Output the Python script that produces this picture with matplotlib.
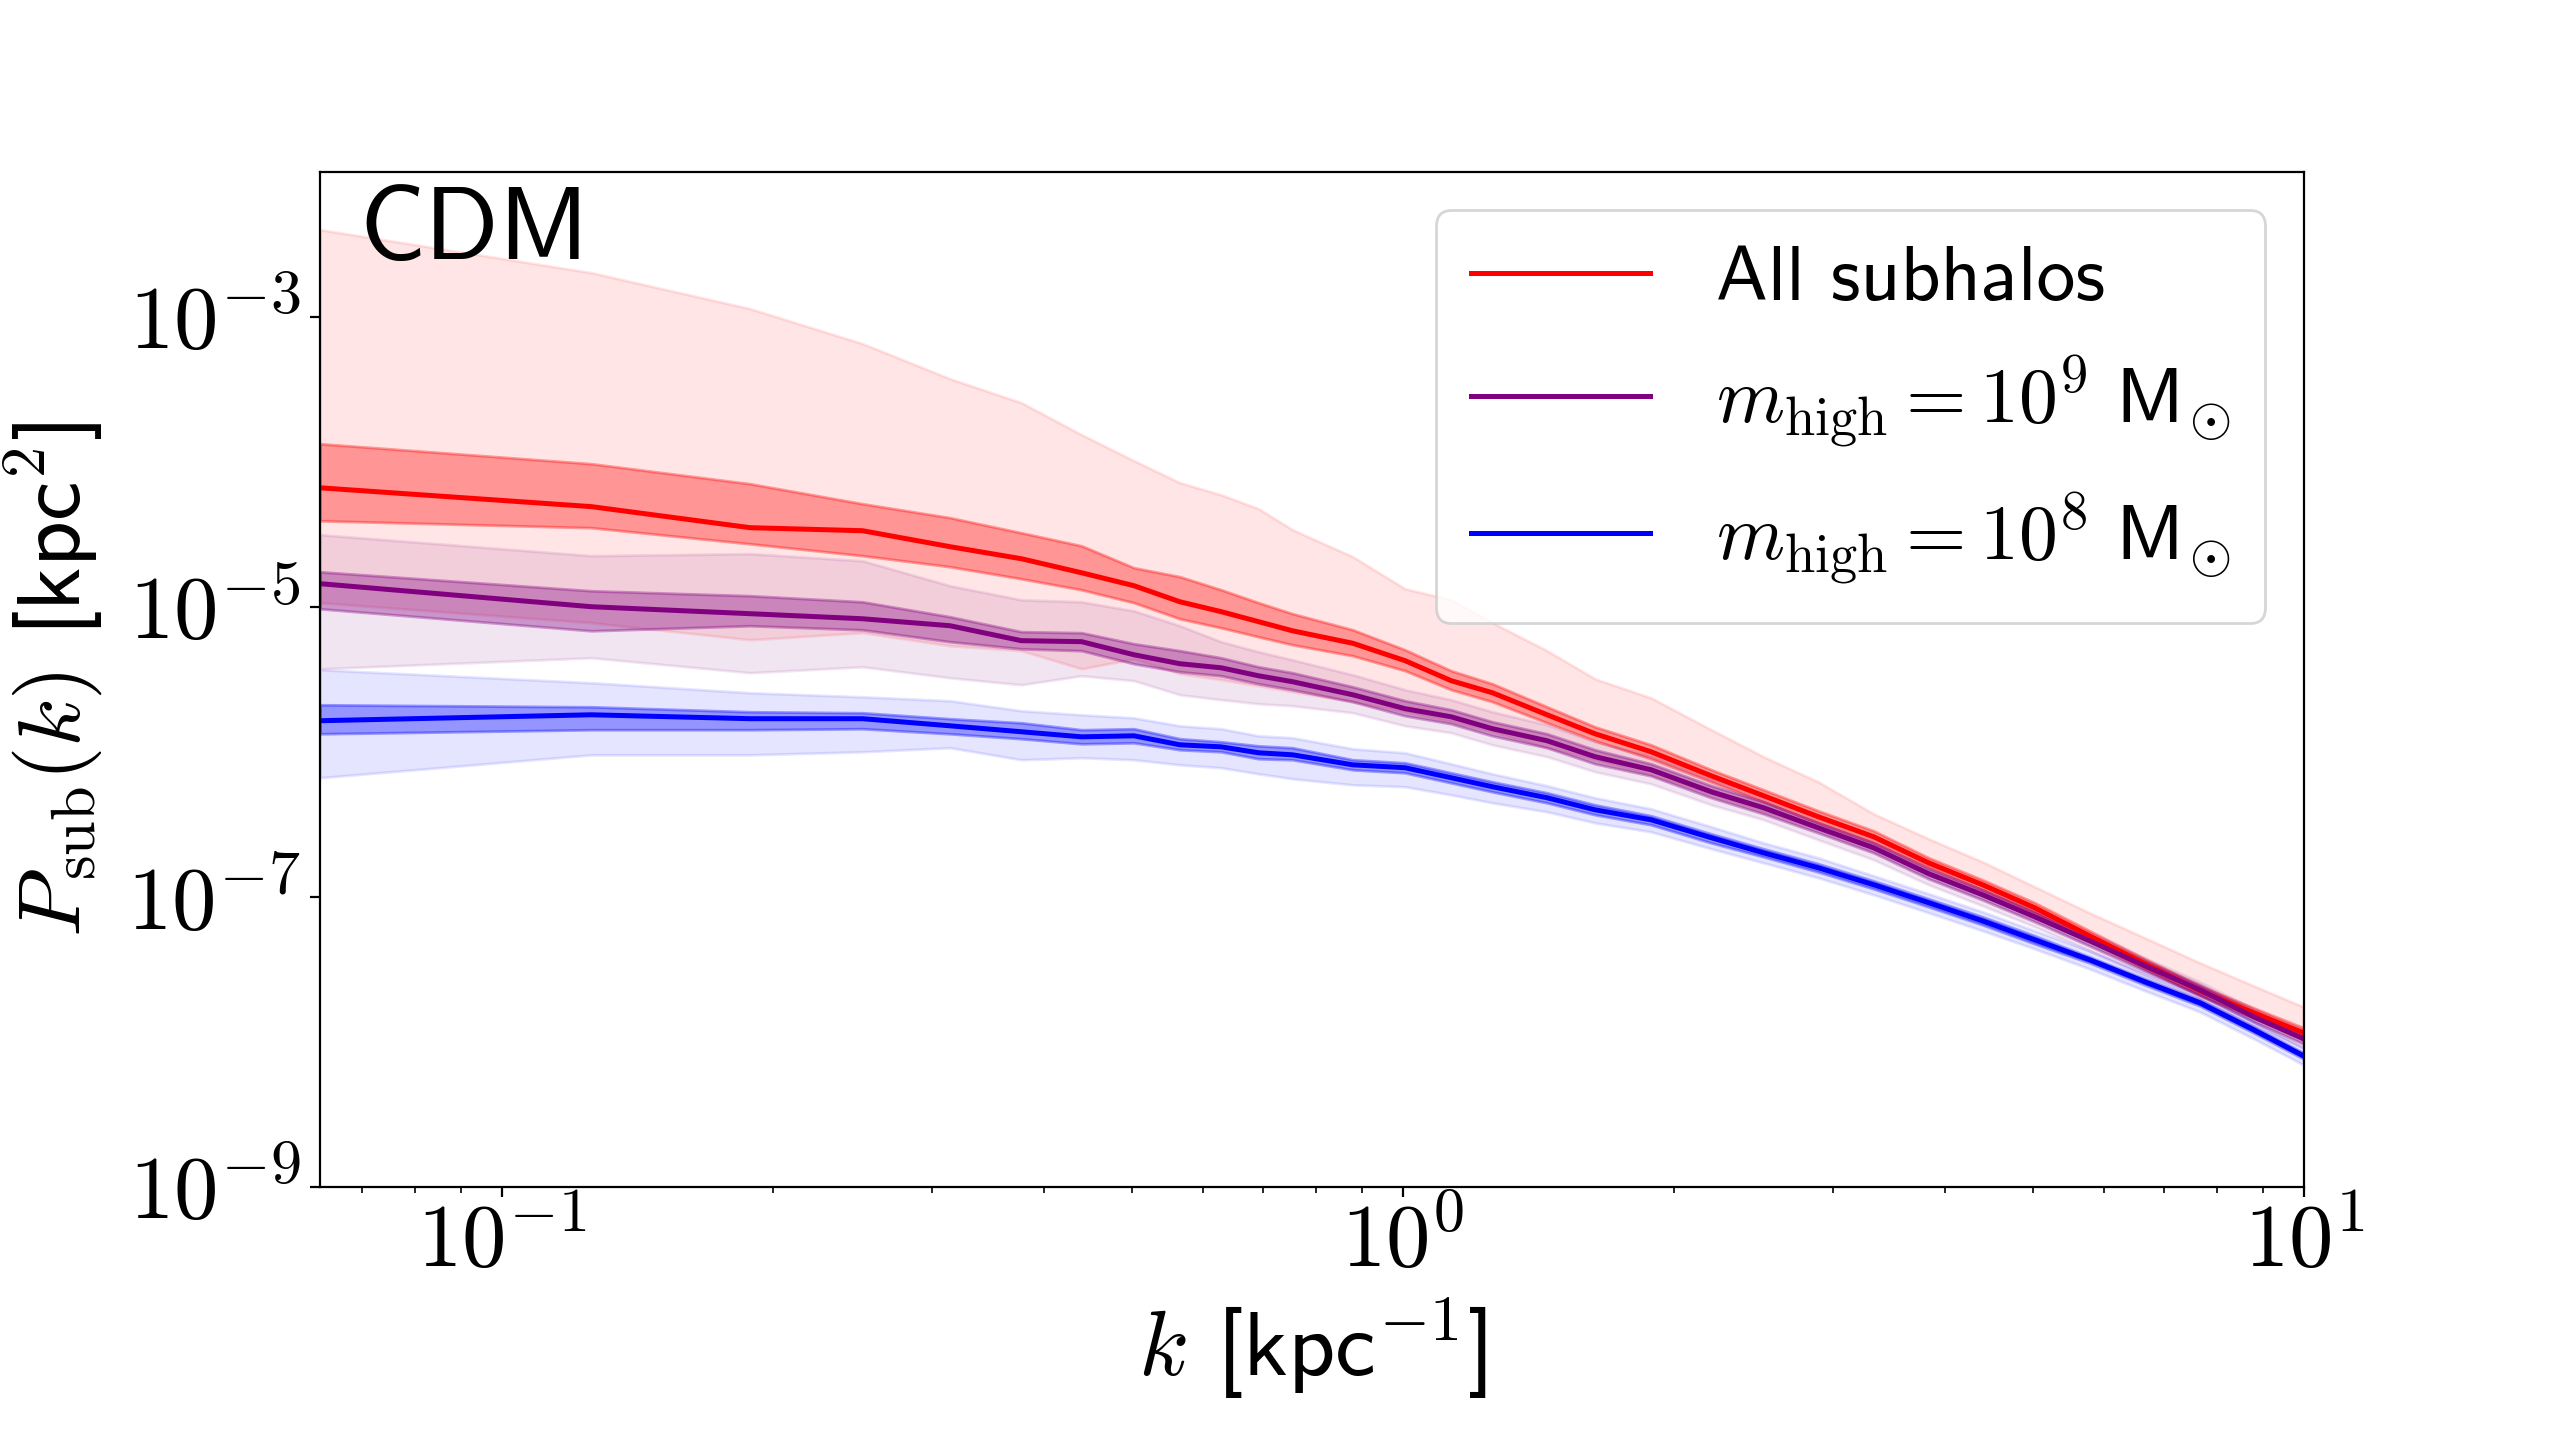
import numpy as np
import matplotlib
matplotlib.use("Agg")
import matplotlib.pyplot as plt
from matplotlib.ticker import NullLocator, FuncFormatter

plt.rcParams["font.family"] = ["cmss10", "DejaVu Sans"]
plt.rcParams["mathtext.fontset"] = "cm"
plt.rcParams["axes.unicode_minus"] = False

# wavenumbers (kpc^-1)
k = [0.0628, 0.1257, 0.1885, 0.2513, 0.3142, 0.3770, 0.4398, 0.5027, 0.5655,
     0.6283, 0.6912, 0.7540, 0.8796, 1.0053, 1.1310, 1.2566, 1.4451, 1.6336,
     1.8850, 2.1991, 2.5133, 2.8903, 3.3301, 3.8327, 4.3982, 5.0265, 5.7805,
     6.6602, 7.6655, 8.7965, 9.9903]

# log10 P_sub(k): median, inner band, outer band
red_med = [-4.18, -4.31, -4.455, -4.476, -4.586, -4.669, -4.766, -4.855, -4.966,
           -5.034, -5.103, -5.166, -5.252, -5.372, -5.510, -5.593, -5.745, -5.876,
           -6.0, -6.166, -6.303, -6.448, -6.586, -6.766, -6.917, -7.076, -7.269,
           -7.462, -7.648, -7.8, -7.938]
red_in_hi = [-3.876, -4.014, -4.152, -4.29, -4.386, -4.49, -4.58, -4.731, -4.793,
             -4.883, -4.972, -5.048, -5.159, -5.297, -5.441, -5.531, -5.690, -5.828,
             -5.952, -6.124, -6.262, -6.407, -6.545, -6.731, -6.883, -7.041, -7.234,
             -7.428, -7.614, -7.766, -7.903]
red_in_lo = [-4.407, -4.455, -4.566, -4.648, -4.724, -4.807, -4.883, -4.972, -5.083,
             -5.145, -5.207, -5.262, -5.338, -5.441, -5.572, -5.655, -5.8, -5.924,
             -6.048, -6.207, -6.345, -6.490, -6.628, -6.8, -6.952, -7.110, -7.303,
             -7.497, -7.683, -7.834, -7.972]
red_out_hi = [-2.4, -2.697, -2.945, -3.186, -3.428, -3.593, -3.814, -3.993, -4.145,
              -4.228, -4.324, -4.469, -4.655, -4.876, -4.952, -5.110, -5.303, -5.497,
              -5.628, -5.848, -6.034, -6.207, -6.428, -6.6, -6.759, -6.931, -7.11,
              -7.283, -7.455, -7.614, -7.759]
red_out_lo = [-4.972, -5.11, -5.228, -5.179, -5.269, -5.303, -5.428, -5.359, -5.462,
              -5.503, -5.545, -5.586, -5.655, -5.724, -5.793, -5.862, -5.972, -6.055,
              -6.159, -6.297, -6.414, -6.538, -6.676, -6.834, -6.972, -7.124, -7.31,
              -7.503, -7.676, -7.834, -7.986]

purple_med = [-4.841, -5.0, -5.048, -5.083, -5.131, -5.234, -5.241, -5.331, -5.393,
              -5.421, -5.476, -5.517, -5.607, -5.703, -5.759, -5.841, -5.924, -6.034,
              -6.124, -6.276, -6.386, -6.524, -6.662, -6.841, -6.986, -7.138, -7.303,
              -7.476, -7.641, -7.828, -7.979]
purple_in_hi = [-4.759, -4.89, -4.924, -4.966, -5.069, -5.172, -5.179, -5.255, -5.303,
                -5.352, -5.414, -5.455, -5.552, -5.648, -5.710, -5.793, -5.876, -5.986,
                -6.083, -6.234, -6.345, -6.490, -6.628, -6.807, -6.952, -7.103, -7.269,
                -7.441, -7.607, -7.793, -7.945]
purple_in_lo = [-5.014, -5.166, -5.131, -5.159, -5.241, -5.29, -5.303, -5.393, -5.448,
                -5.476, -5.531, -5.572, -5.655, -5.752, -5.807, -5.890, -5.972, -6.083,
                -6.166, -6.317, -6.428, -6.559, -6.697, -6.876, -7.021, -7.172, -7.338,
                -7.510, -7.676, -7.862, -8.014]
purple_out_hi = [-4.503, -4.648, -4.634, -4.683, -4.855, -4.952, -4.966, -5.028, -5.131,
                 -5.241, -5.310, -5.366, -5.469, -5.572, -5.641, -5.724, -5.814, -5.931,
                 -6.028, -6.186, -6.303, -6.448, -6.593, -6.779, -6.924, -7.083, -7.248,
                 -7.421, -7.586, -7.772, -7.924]
purple_out_lo = [-5.428, -5.352, -5.455, -5.414, -5.49, -5.538, -5.476, -5.51, -5.607,
                 -5.641, -5.669, -5.683, -5.731, -5.821, -5.869, -5.952, -6.034, -6.138,
                 -6.221, -6.366, -6.469, -6.607, -6.745, -6.917, -7.062, -7.207, -7.372,
                 -7.545, -7.703, -7.890, -8.041]

blue_med = [-5.786, -5.745, -5.772, -5.772, -5.821, -5.862, -5.897, -5.89, -5.952,
            -5.966, -6.007, -6.021, -6.090, -6.110, -6.179, -6.241, -6.317, -6.4,
            -6.469, -6.593, -6.697, -6.8, -6.917, -7.041, -7.166, -7.297, -7.434,
            -7.586, -7.731, -7.917, -8.097]
blue_in_hi = [-5.676, -5.69, -5.724, -5.731, -5.772, -5.8, -5.848, -5.841, -5.91,
              -5.931, -5.959, -5.972, -6.055, -6.076, -6.145, -6.207, -6.283, -6.366,
              -6.441, -6.566, -6.669, -6.772, -6.890, -7.014, -7.138, -7.269, -7.414,
              -7.566, -7.710, -7.897, -8.076]
blue_in_lo = [-5.876, -5.848, -5.848, -5.841, -5.876, -5.91, -5.945, -5.938, -5.986,
              -6.0, -6.048, -6.055, -6.124, -6.145, -6.214, -6.276, -6.352, -6.434,
              -6.503, -6.628, -6.724, -6.828, -6.945, -7.069, -7.193, -7.324, -7.455,
              -7.607, -7.752, -7.938, -8.117]
blue_out_hi = [-5.434, -5.524, -5.593, -5.621, -5.648, -5.717, -5.745, -5.766, -5.821,
               -5.841, -5.89, -5.903, -5.979, -6.007, -6.083, -6.152, -6.234, -6.317,
               -6.393, -6.517, -6.628, -6.731, -6.855, -6.979, -7.103, -7.234, -7.372,
               -7.524, -7.676, -7.862, -8.041]
blue_out_lo = [-6.179, -6.021, -6.021, -6.0, -5.972, -6.055, -6.041, -6.055, -6.09,
               -6.11, -6.152, -6.186, -6.228, -6.241, -6.297, -6.352, -6.414, -6.490,
               -6.552, -6.669, -6.766, -6.869, -6.986, -7.110, -7.234, -7.359, -7.497,
               -7.648, -7.793, -7.979, -8.159]

labels = ["All subhalos",
          r"$m_{\rm high} = 10^9\ \mathsf{M}_{\!\odot}$",
          r"$m_{\rm high} = 10^8\ \mathsf{M}_{\!\odot}$"]
colors = ["red", "purple", "blue"]

series = [
    (red_med, red_in_lo, red_in_hi, red_out_lo, red_out_hi),
    (purple_med, purple_in_lo, purple_in_hi, purple_out_lo, purple_out_hi),
    (blue_med, blue_in_lo, blue_in_hi, blue_out_lo, blue_out_hi),
]

fig = plt.figure(figsize=(12.8, 7.15), dpi=200)
ax = fig.add_axes([0.125, 0.170, 0.775, 0.710])

k = np.array(k)
for (med, in_lo, in_hi, out_lo, out_hi), c, lab in zip(series, colors, labels):
    ax.fill_between(k, 10.0 ** np.array(out_lo), 10.0 ** np.array(out_hi),
                    color=c, alpha=0.1)
    ax.fill_between(k, 10.0 ** np.array(in_lo), 10.0 ** np.array(in_hi),
                    color=c, alpha=0.35)
    ax.plot(k, 10.0 ** np.array(med), color=c, lw=1.8, label=lab)

ax.set_xscale("log")
ax.set_yscale("log")
ax.set_xlim(k[0], 10)
ax.set_ylim(1e-9, 1e-2)
ax.set_yticks([1e-9, 1e-7, 1e-5, 1e-3])
ax.yaxis.set_minor_locator(NullLocator())

# power-of-ten labels in Computer Modern
pow10 = FuncFormatter(lambda v, pos: r"$10^{%d}$" % int(round(np.log10(v))))
ax.xaxis.set_major_formatter(pow10)
ax.yaxis.set_major_formatter(pow10)

ax.tick_params(axis="both", which="major", labelsize=32, length=3.5)
ax.tick_params(axis="x", which="major", pad=2)

ax.set_xlabel(r"$k$ [kpc$^{-1}$]", fontsize=33)
ax.set_ylabel(r"$P_{\rm sub}(k)$ [kpc$^2$]", fontsize=32, labelpad=8)

ax.text(0.02, 0.985, "CDM", transform=ax.transAxes, fontsize=37,
        va="top", ha="left")

ax.legend(loc="upper right", fontsize=28, handlelength=2.3,
          handletextpad=0.85, borderpad=0.45)

fig.savefig("out.png", dpi=200)
